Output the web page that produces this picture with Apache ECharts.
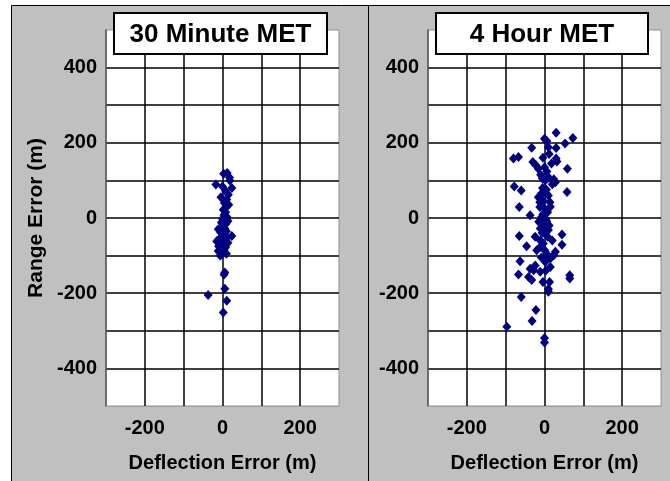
<!DOCTYPE html>
<html>
<head>
<meta charset="utf-8">
<script src="https://cdn.jsdelivr.net/npm/echarts@6/dist/echarts.min.js"></script>
<style>
html,body{margin:0;padding:0;background:#fff;}
#chart{width:670px;height:481px;}
</style>
</head>
<body>
<div id="chart"></div>
<script>
// Panel titles
const panelTitles = ["30 Minute MET", "4 Hour MET"];
const xAxisTitle = "Deflection Error (m)";
const yAxisTitle = "Range Error (m)";
// Tick labels shown
const xTickLabels = [-200, 0, 200];
const yTickLabels = [-400, -200, 0, 200, 400];

// 30 Minute MET: [deflection, range]
const met30 = [
  [3,118],[12,120],[19,100],[-17,89],[0,84],[24,80],[18,108],[8,72],[15,62],[-4,55],
  [11,49],[5,40],[16,35],[10,30],[2,22],[8,15],[4,8],[12,2],[0,-2],[6,-5],
  [14,-8],[-3,-12],[9,-15],[3,-20],[-11,-30],[6,-28],[10,-35],[-5,-38],[24,-48],[2,-45],
  [12,-52],[-15,-62],[5,-58],[-8,-55],[-2,-65],[14,-66],[0,-70],[-10,-75],[8,-78],[-11,-88],
  [4,-85],[-2,-97],[10,-95],[-6,-100],[6,-145],[4,-150],[6,-188],[-37,-205],[11,-220],[2,-251]
];

// 4 Hour MET: [deflection, range]
const met4h = [
  [30,227],[73,213],[0,211],[6,205],[53,198],[10,188],[30,186],[-33,187],[-80,158],[-67,162],
  [30,158],[32,150],[-30,149],[-22,140],[-16,131],[59,131],[6,124],[0,135],[12,170],[-4,160],
  [18,145],[-10,115],[-6,106],[2,100],[11,108],[24,103],[28,95],[20,90],[-78,84],[-60,73],
  [-5,80],[5,75],[-8,65],[58,69],[-16,55],[10,60],[-3,46],[-12,42],[14,42],[15,30],
  [-65,29],[-12,29],[0,25],[8,15],[-4,10],[-37,7],[-7,3],[2,-2],[4,-5],[6,-10],
  [-15,-10],[12,-20],[-2,-20],[-11,-28],[10,-32],[-6,-40],[2,-42],[8,-50],[-65,-48],[45,-44],
  [-24,-50],[20,-60],[-11,-60],[-3,-68],[45,-71],[-46,-75],[-11,-77],[0,-85],[-20,-86],[28,-90],
  [6,-95],[24,-99],[-8,-105],[15,-108],[-2,-110],[2,-117],[-63,-115],[-24,-126],[15,-130],[-37,-135],
  [-28,-139],[3,-140],[-11,-143],[-67,-150],[65,-152],[65,-161],[-41,-157],[-33,-165],[-4,-170],[13,-170],
  [10,-189],[10,-196],[-60,-210],[-22,-245],[-32,-274],[-97,-289],[0,-319],[0,-331]
];

const FONT = "'Liberation Sans', Arial, sans-serif";
const chart = echarts.init(document.getElementById('chart'), null, {renderer:'canvas'});

const grids = [
  {left:106, top:30, width:233, height:376},
  {left:428, top:30, width:233, height:376}
];

function xAxisFor(i){
  return {
    type:'value', gridIndex:i, min:-300, max:300, interval:100,
    name:xAxisTitle, nameLocation:'middle', nameGap:47,
    nameTextStyle:{fontFamily:FONT, fontWeight:'bold', fontSize:20, color:'#000'},
    axisLine:{show:true, onZero:false, lineStyle:{color:'#a0a0a0', width:1}},
    axisTick:{show:false},
    axisLabel:{margin:12, fontFamily:FONT, fontWeight:'bold', fontSize:20, color:'#000',
      formatter:v => xTickLabels.includes(v) ? String(v) : ''},
    splitLine:{show:true, showMinLine:false, showMaxLine:false, lineStyle:{color:'#000', width:1.5}}
  };
}
function yAxisFor(i){
  return {
    type:'value', gridIndex:i, min:-500, max:500, interval:100,
    name: i===0 ? yAxisTitle : '', nameLocation:'middle', nameGap:59, nameRotate:90,
    nameTextStyle:{fontFamily:FONT, fontWeight:'bold', fontSize:21, color:'#000'},
    axisLine:{show:true, onZero:false, lineStyle:{color:'#555', width:1.5}},
    axisTick:{show:false},
    axisLabel:{margin:9, padding:[4,0,0,0], fontFamily:FONT, fontWeight:'bold', fontSize:20, color:'#000',
      formatter:v => yTickLabels.includes(v) ? String(v) : ''},
    splitLine:{show:true, showMinLine:false, showMaxLine:false, lineStyle:{color:'#000', width:1.5}}
  };
}

const titleBoxes = [
  {x:114, y:13, w:213, h:41},
  {x:436, y:13, w:212, h:41}
];

const graphics = [
  {type:'rect', z:-10, silent:true, shape:{x:11.5, y:5.5, width:670, height:480},
   style:{fill:'#c0c0c0', stroke:'#000', lineWidth:1}},
  {type:'line', z:-9, silent:true, shape:{x1:368.5, y1:5, x2:368.5, y2:481},
   style:{stroke:'#000', lineWidth:1}}
];
titleBoxes.forEach((b, i) => {
  graphics.push({type:'rect', z:100, shape:{x:b.x, y:b.y, width:b.w, height:b.h},
    style:{fill:'#fff', stroke:'#000', lineWidth:2}});
  graphics.push({type:'text', z:101, x:b.x + b.w/2, y:b.y + b.h/2 + 1,
    style:{text:panelTitles[i], fill:'#000', font:"bold 26px " + FONT,
      align:'center', verticalAlign:'middle'}});
});

chart.setOption({
  animation:false,
  backgroundColor:'#fff',
  graphic:graphics,
  grid:grids.map(g => Object.assign({show:true, backgroundColor:'#fff', borderColor:'#909090', borderWidth:1}, g)),
  xAxis:[xAxisFor(0), xAxisFor(1)],
  yAxis:[yAxisFor(0), yAxisFor(1)],
  series:[
    {type:'scatter', name:panelTitles[0], xAxisIndex:0, yAxisIndex:0, data:met30,
     symbol:'diamond', symbolSize:[9,10], itemStyle:{color:'#000080', opacity:1}},
    {type:'scatter', name:panelTitles[1], xAxisIndex:1, yAxisIndex:1, data:met4h,
     symbol:'diamond', symbolSize:[9,10], itemStyle:{color:'#000080', opacity:1}}
  ]
});
</script>
</body>
</html>
